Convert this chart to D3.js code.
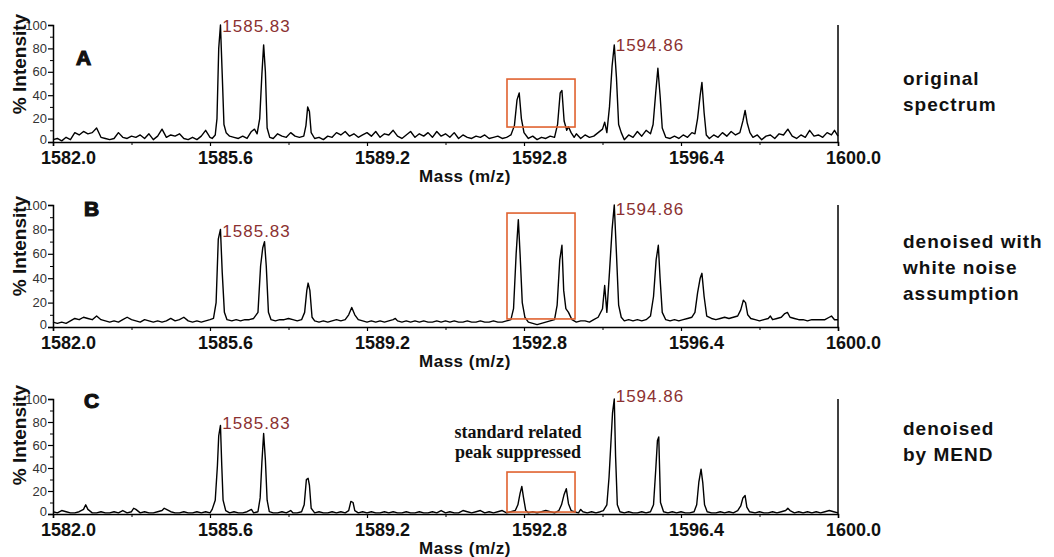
<!DOCTYPE html>
<html><head><meta charset="utf-8">
<script src="https://cdn.jsdelivr.net/npm/d3@7"></script>
<style>
html,body{margin:0;padding:0;background:#fff;}
svg{display:block;}
</style></head>
<body>
<svg id="chart" width="1054" height="557"></svg>
<script>
// ---------------- DATA ----------------
const massDomain = [1582.0, 1600.0];
const majorTicks = [1582.0, 1585.6, 1589.2, 1592.8, 1596.4, 1600.0];
const minorTicks = [1583.8, 1587.4, 1591.0, 1594.6, 1598.2];
const yTicks = [0, 20, 40, 60, 80, 100];
const yMinorTicks = [10, 30, 50, 70, 90];
const panelLetters = ["A", "B", "C"];
const peakLabelText = ["1585.83", "1594.86"];
const sideNotes = [["original", "spectrum"], ["denoised with", "white noise", "assumption"], ["denoised", "by MEND"]];
const boxNote = ["standard related", "peak suppressed"];

// [mass, % intensity]
const spectrumA = [
[1582.0,2],[1582.1,3],[1582.2,1],[1582.3,4],[1582.4,2],[1582.5,8],[1582.6,6],[1582.7,9],[1582.8,7],[1582.9,8],
[1583.0,12],[1583.1,4],[1583.2,3],[1583.3,2],[1583.4,3],[1583.5,8],[1583.6,4],[1583.7,3],[1583.8,5],[1583.9,4],
[1584.0,6],[1584.1,3],[1584.2,7],[1584.3,2],[1584.4,5],[1584.5,11],[1584.6,4],[1584.7,6],[1584.8,5],[1584.9,7],
[1585.0,3],[1585.1,2],[1585.2,4],[1585.3,2],[1585.4,5],[1585.5,10],[1585.6,4],[1585.65,3],[1585.72,6],[1585.76,20],
[1585.80,80],[1585.84,100],[1585.88,58],[1585.92,15],[1585.97,8],[1586.05,5],[1586.15,4],[1586.25,3],[1586.35,5],[1586.45,3],
[1586.55,9],[1586.62,11],[1586.68,7],[1586.74,20],[1586.79,58],[1586.83,83],[1586.87,60],[1586.91,12],[1586.97,4],[1587.05,3],
[1587.15,7],[1587.25,5],[1587.35,4],[1587.45,8],[1587.55,5],[1587.65,4],[1587.75,5],[1587.8,14],[1587.84,30],[1587.88,26],
[1587.92,8],[1588.0,3],[1588.1,4],[1588.2,2],[1588.3,5],[1588.4,4],[1588.5,8],[1588.6,6],[1588.7,9],[1588.8,5],
[1588.9,7],[1589.0,4],[1589.1,6],[1589.2,8],[1589.3,5],[1589.4,9],[1589.5,4],[1589.6,7],[1589.7,6],[1589.8,10],
[1589.9,5],[1590.0,3],[1590.1,6],[1590.2,9],[1590.3,4],[1590.4,7],[1590.5,5],[1590.6,8],[1590.7,4],[1590.8,9],
[1590.9,5],[1591.0,7],[1591.1,4],[1591.2,8],[1591.3,3],[1591.4,6],[1591.5,4],[1591.6,3],[1591.7,5],[1591.8,4],
[1591.9,6],[1592.0,3],[1592.1,4],[1592.2,5],[1592.3,3],[1592.4,4],[1592.5,6],[1592.58,14],[1592.64,36],[1592.69,42],
[1592.74,20],[1592.8,8],[1592.9,3],[1593.0,5],[1593.1,2],[1593.2,4],[1593.3,3],[1593.4,5],[1593.5,4],[1593.57,15],
[1593.63,42],[1593.67,44],[1593.72,18],[1593.78,10],[1593.82,13],[1593.88,8],[1593.95,4],[1594.0,7],[1594.1,3],[1594.2,6],
[1594.3,4],[1594.4,5],[1594.5,8],[1594.6,11],[1594.65,17],[1594.7,8],[1594.76,30],[1594.82,65],[1594.87,83],[1594.92,55],
[1594.97,15],[1595.03,8],[1595.1,2],[1595.2,6],[1595.3,4],[1595.4,9],[1595.5,5],[1595.6,10],[1595.7,7],[1595.76,15],
[1595.82,42],[1595.87,63],[1595.92,40],[1595.97,12],[1596.05,4],[1596.15,3],[1596.25,5],[1596.35,3],[1596.45,6],[1596.55,4],
[1596.65,8],[1596.72,7],[1596.78,20],[1596.84,40],[1596.88,51],[1596.93,25],[1596.98,6],[1597.05,3],[1597.15,6],[1597.25,4],
[1597.35,8],[1597.45,5],[1597.55,9],[1597.65,6],[1597.75,8],[1597.82,18],[1597.87,27],[1597.92,16],[1597.98,8],[1598.05,4],
[1598.15,6],[1598.25,2],[1598.35,5],[1598.45,6],[1598.55,3],[1598.65,7],[1598.75,6],[1598.85,11],[1598.95,5],[1599.05,3],
[1599.15,6],[1599.25,4],[1599.35,10],[1599.45,5],[1599.55,6],[1599.65,4],[1599.75,8],[1599.85,6],[1599.92,10],[1600.0,5]
];

const spectrumB = [
[1582.0,4],[1582.1,3],[1582.2,4],[1582.3,3],[1582.4,5],[1582.5,7],[1582.6,6],[1582.7,8],[1582.8,7],[1582.9,6],
[1583.0,9],[1583.1,6],[1583.2,5],[1583.3,4],[1583.4,5],[1583.5,4],[1583.6,6],[1583.7,8],[1583.8,6],[1583.9,5],
[1584.0,4],[1584.1,6],[1584.2,5],[1584.3,4],[1584.4,5],[1584.5,4],[1584.6,5],[1584.7,7],[1584.8,5],[1584.9,6],
[1585.0,8],[1585.1,5],[1585.2,4],[1585.3,5],[1585.4,4],[1585.5,5],[1585.6,6],[1585.68,7],[1585.74,20],[1585.79,72],
[1585.84,80],[1585.88,45],[1585.93,12],[1585.99,6],[1586.1,5],[1586.2,6],[1586.3,5],[1586.4,6],[1586.5,6],[1586.6,7],
[1586.7,12],[1586.76,50],[1586.81,65],[1586.85,70],[1586.89,50],[1586.94,12],[1587.0,6],[1587.1,5],[1587.2,6],[1587.3,6],
[1587.4,7],[1587.5,6],[1587.6,5],[1587.7,6],[1587.77,12],[1587.82,30],[1587.85,36],[1587.89,30],[1587.94,8],[1588.0,5],
[1588.1,4],[1588.2,5],[1588.3,4],[1588.4,5],[1588.5,6],[1588.6,5],[1588.7,6],[1588.78,10],[1588.85,16],[1588.92,10],
[1589.0,6],[1589.1,5],[1589.2,4],[1589.3,5],[1589.4,4],[1589.5,5],[1589.6,4],[1589.7,5],[1589.8,6],[1589.85,7],
[1589.9,5],[1590.0,4],[1590.1,5],[1590.2,4],[1590.3,5],[1590.4,4],[1590.5,5],[1590.6,4],[1590.7,4],[1590.8,5],
[1590.9,4],[1591.0,5],[1591.1,4],[1591.2,5],[1591.3,4],[1591.4,4],[1591.5,5],[1591.6,4],[1591.7,4],[1591.8,5],
[1591.9,4],[1592.0,4],[1592.1,5],[1592.2,4],[1592.3,4],[1592.4,5],[1592.5,6],[1592.56,15],[1592.62,60],[1592.67,88],
[1592.71,60],[1592.76,20],[1592.82,8],[1592.9,4],[1593.0,3],[1593.1,2],[1593.2,3],[1593.3,4],[1593.4,5],[1593.5,6],
[1593.56,18],[1593.62,55],[1593.67,67],[1593.71,30],[1593.76,15],[1593.82,12],[1593.9,6],[1594.0,4],[1594.1,5],[1594.2,5],
[1594.3,4],[1594.4,6],[1594.5,8],[1594.6,15],[1594.65,34],[1594.7,12],[1594.76,45],[1594.82,80],[1594.87,100],[1594.92,60],
[1594.97,18],[1595.03,8],[1595.1,5],[1595.2,6],[1595.3,5],[1595.4,6],[1595.5,5],[1595.6,6],[1595.7,9],[1595.77,25],
[1595.83,55],[1595.88,67],[1595.92,40],[1595.97,12],[1596.05,6],[1596.15,5],[1596.25,6],[1596.35,5],[1596.45,6],[1596.55,7],
[1596.65,8],[1596.72,12],[1596.78,28],[1596.84,40],[1596.88,44],[1596.93,25],[1596.99,9],[1597.1,7],[1597.2,6],[1597.3,7],
[1597.4,8],[1597.5,7],[1597.6,8],[1597.7,9],[1597.77,14],[1597.83,22],[1597.88,20],[1597.93,10],[1598.0,7],[1598.1,6],
[1598.2,5],[1598.3,6],[1598.4,7],[1598.45,9],[1598.5,6],[1598.6,7],[1598.7,8],[1598.78,11],[1598.84,12],[1598.9,8],
[1599.0,7],[1599.1,6],[1599.2,6],[1599.3,5],[1599.4,6],[1599.5,6],[1599.6,6],[1599.7,6],[1599.8,8],[1599.85,9],
[1599.92,6],[1600.0,6]
];

const spectrumC = [
[1582.0,2],[1582.1,1],[1582.2,3],[1582.3,2],[1582.4,1],[1582.5,1],[1582.6,2],[1582.7,4],[1582.75,8],[1582.8,4],
[1582.9,1],[1583.0,1],[1583.1,2],[1583.2,1],[1583.3,1],[1583.4,2],[1583.5,1],[1583.6,3],[1583.7,1],[1583.8,2],
[1583.85,5],[1583.9,4],[1584.0,1],[1584.1,2],[1584.2,1],[1584.3,1],[1584.4,2],[1584.5,3],[1584.55,5],[1584.6,4],
[1584.7,2],[1584.8,1],[1584.9,1],[1585.0,2],[1585.1,1],[1585.2,1],[1585.3,2],[1585.4,1],[1585.5,2],[1585.6,1],
[1585.65,4],[1585.72,12],[1585.77,42],[1585.8,68],[1585.84,77],[1585.87,42],[1585.9,12],[1585.96,3],[1586.05,1],[1586.15,2],
[1586.25,1],[1586.35,1],[1586.45,2],[1586.55,4],[1586.6,1],[1586.7,2],[1586.75,14],[1586.79,45],[1586.83,70],[1586.87,47],
[1586.91,12],[1586.96,2],[1587.05,1],[1587.15,1],[1587.25,2],[1587.35,1],[1587.45,3],[1587.5,1],[1587.6,1],[1587.7,2],
[1587.76,8],[1587.81,30],[1587.85,31],[1587.88,25],[1587.92,5],[1588.0,1],[1588.1,2],[1588.2,1],[1588.3,1],[1588.4,2],
[1588.5,1],[1588.6,2],[1588.7,1],[1588.78,3],[1588.83,11],[1588.88,10],[1588.92,3],[1589.0,1],[1589.1,2],[1589.2,1],
[1589.3,2],[1589.4,1],[1589.5,1],[1589.6,2],[1589.7,1],[1589.8,2],[1589.9,1],[1590.0,1],[1590.1,2],[1590.2,1],
[1590.3,1],[1590.4,2],[1590.5,1],[1590.6,1],[1590.7,2],[1590.8,1],[1590.9,3],[1591.0,1],[1591.1,2],[1591.2,1],
[1591.3,1],[1591.4,3],[1591.5,2],[1591.6,1],[1591.7,2],[1591.8,3],[1591.9,1],[1592.0,2],[1592.1,1],[1592.2,2],
[1592.3,3],[1592.4,1],[1592.5,2],[1592.6,3],[1592.66,8],[1592.71,18],[1592.75,24],[1592.79,14],[1592.84,3],[1592.9,1],
[1593.0,2],[1593.1,1],[1593.2,2],[1593.3,3],[1593.4,2],[1593.5,1],[1593.6,3],[1593.66,8],[1593.72,17],[1593.77,22],
[1593.82,9],[1593.88,3],[1593.95,2],[1594.05,1],[1594.1,4],[1594.15,2],[1594.25,1],[1594.35,2],[1594.45,1],[1594.55,2],
[1594.62,3],[1594.7,8],[1594.75,32],[1594.79,60],[1594.83,88],[1594.87,100],[1594.9,50],[1594.94,8],[1595.0,2],[1595.1,1],
[1595.2,2],[1595.3,1],[1595.4,1],[1595.5,2],[1595.6,1],[1595.7,2],[1595.77,8],[1595.82,38],[1595.86,64],[1595.89,67],
[1595.93,10],[1596.0,2],[1596.1,1],[1596.2,2],[1596.3,1],[1596.4,2],[1596.5,1],[1596.6,1],[1596.7,2],[1596.76,8],
[1596.81,28],[1596.86,39],[1596.9,27],[1596.94,8],[1597.0,2],[1597.1,1],[1597.2,1],[1597.3,2],[1597.4,1],[1597.5,2],
[1597.6,1],[1597.7,3],[1597.77,7],[1597.82,14],[1597.87,16],[1597.91,6],[1597.97,2],[1598.1,1],[1598.2,2],[1598.3,1],
[1598.4,1],[1598.5,2],[1598.6,1],[1598.7,2],[1598.8,3],[1598.85,5],[1598.9,3],[1599.0,1],[1599.1,2],[1599.2,1],
[1599.3,2],[1599.4,1],[1599.5,2],[1599.6,1],[1599.7,2],[1599.8,3],[1599.9,2],[1600.0,1]
];

// peak annotations: [mass, intensity] for each label per panel
const peakLabelPosA = [[1585.86, 100], [1594.88, 84]];
const peakLabelPosB = [[1585.86, 80], [1594.88, 98]];
const peakLabelPosC = [[1585.86, 80], [1594.88, 104]];
// highlighted region: [mass0, mass1, int0, int1]
const boxA = [1592.41, 1593.97, 12.8, 53.8];
const boxB = [1592.41, 1593.97, 6.6, 93.4];
const boxC = [1592.41, 1593.97, 1.7, 36.5];

// ---------------- LAYOUT ----------------
const svg = d3.select("#chart");
svg.append("rect").attr("width",1054).attr("height",557).attr("fill","#fff");

const x = d3.scaleLinear().domain(massDomain).range([53, 838]);
const sansBold = "'Liberation Sans', Arial, sans-serif";

const panels = [
  {data: spectrumA, top: 25, bottom: 142, labels: peakLabelPosA, box: boxA, letterX: 76, letterY: 65, ylabY: 64, noteY: 85},
  {data: spectrumB, top: 205, bottom: 327, labels: peakLabelPosB, box: boxB, letterX: 84, letterY: 216, ylabY: 246, noteY: 248},
  {data: spectrumC, top: 399, bottom: 514, labels: peakLabelPosC, box: boxC, letterX: 84, letterY: 408, ylabY: 435, noteY: 435}
];

panels.forEach((p, i) => {
  const y = d3.scaleLinear().domain([0, 100]).range([p.bottom, p.top]);
  const g = svg.append("g");

  // y axis
  const ya = g.append("g").attr("transform", `translate(${x(massDomain[0])},0)`)
    .call(d3.axisLeft(y).tickValues(yTicks).tickSize(5).tickPadding(1).tickFormat(d3.format("d")));
  ya.select(".domain").attr("stroke", "#000").attr("stroke-width", 1.5);
  ya.selectAll(".tick line").attr("stroke", "#000").attr("stroke-width", 1.2);
  ya.selectAll(".tick text").attr("font-family", sansBold).attr("font-size", 13).attr("fill", "#333")
    .attr("y", d => d === 0 ? -3 : 0);
  g.append("g").attr("transform", `translate(${x(massDomain[0])},0)`)
    .call(d3.axisLeft(y).tickValues(yMinorTicks).tickSize(3).tickFormat(""))
    .call(s => s.select(".domain").remove())
    .selectAll(".tick line").attr("stroke", "#000");

  // x axis
  const xa = g.append("g").attr("transform", `translate(0,${p.bottom})`)
    .call(d3.axisBottom(x).tickValues(majorTicks).tickSize(4).tickPadding(5).tickFormat(d3.format(".1f")));
  xa.select(".domain").attr("stroke", "#000").attr("stroke-width", 1.5);
  xa.selectAll(".tick line").attr("stroke", "#000").attr("stroke-width", 1.2);
  xa.selectAll(".tick text").attr("x", 15).attr("font-family", sansBold).attr("font-weight", "bold")
    .attr("font-size", 18).attr("fill", "#111");
  g.append("g").attr("transform", `translate(0,${p.bottom})`)
    .call(d3.axisBottom(x).tickValues(minorTicks).tickSize(3).tickFormat(""))
    .call(s => s.select(".domain").remove())
    .selectAll(".tick line").attr("stroke", "#000");

  // right border
  g.append("line").attr("x1", x(massDomain[1])).attr("x2", x(massDomain[1]))
    .attr("y1", y(100)).attr("y2", y(0)).attr("stroke", "#000").attr("stroke-width", 1.5);

  // spectrum
  const line = d3.line().x(d => x(d[0])).y(d => y(d[1]));
  g.append("path").datum(p.data).attr("d", line)
    .attr("fill", "none").attr("stroke", "#000").attr("stroke-width", 1.4).attr("stroke-linejoin", "round");

  // highlight box
  g.append("rect").attr("x", x(p.box[0])).attr("y", y(p.box[3]))
    .attr("width", x(p.box[1]) - x(p.box[0])).attr("height", y(p.box[2]) - y(p.box[3]))
    .attr("fill", "none").attr("stroke", "#e0622f").attr("stroke-width", 1.6);

  // peak labels
  p.labels.forEach((lp, k) => {
    g.append("text").attr("x", x(lp[0]) + 1).attr("y", y(lp[1]) + 3)
      .attr("dominant-baseline", "middle")
      .attr("font-family", sansBold).attr("font-size", 17).attr("letter-spacing", 1)
      .attr("fill", "#8b3131").text(peakLabelText[k]);
  });

  // panel letter
  g.append("text").attr("x", p.letterX).attr("y", p.letterY)
    .attr("font-family", sansBold).attr("font-weight", "bold").attr("font-size", 21)
    .attr("stroke", "#111").attr("stroke-width", 1.2)
    .attr("fill", "#111").text(panelLetters[i]);

  // axis titles
  g.append("text").attr("x", 465).attr("y", p.bottom + 40).attr("text-anchor", "middle")
    .attr("font-family", sansBold).attr("font-weight", "bold").attr("font-size", 17)
    .attr("letter-spacing", 0.5).attr("fill", "#111").text("Mass (m/z)");
  g.append("text").attr("transform", `translate(26,${p.ylabY}) rotate(-90)`).attr("text-anchor", "middle")
    .attr("font-family", sansBold).attr("font-weight", "bold").attr("font-size", 19)
    .attr("fill", "#111").text("% Intensity");

  // side notes
  sideNotes[i].forEach((t, k) => {
    g.append("text").attr("x", 903).attr("y", p.noteY + k * 26)
      .attr("font-family", sansBold).attr("font-weight", "bold").attr("font-size", 19)
      .attr("letter-spacing", 1).attr("fill", "#111").text(t);
  });
});

// annotation above box in panel C
boxNote.forEach((t, k) => {
  svg.append("text").attr("x", 518).attr("y", 438 + k * 20).attr("text-anchor", "middle")
    .attr("font-family", "'Liberation Serif', 'Times New Roman', serif").attr("font-weight", "bold")
    .attr("font-size", 18).attr("fill", "#111").text(t);
});
</script>
</body></html>
